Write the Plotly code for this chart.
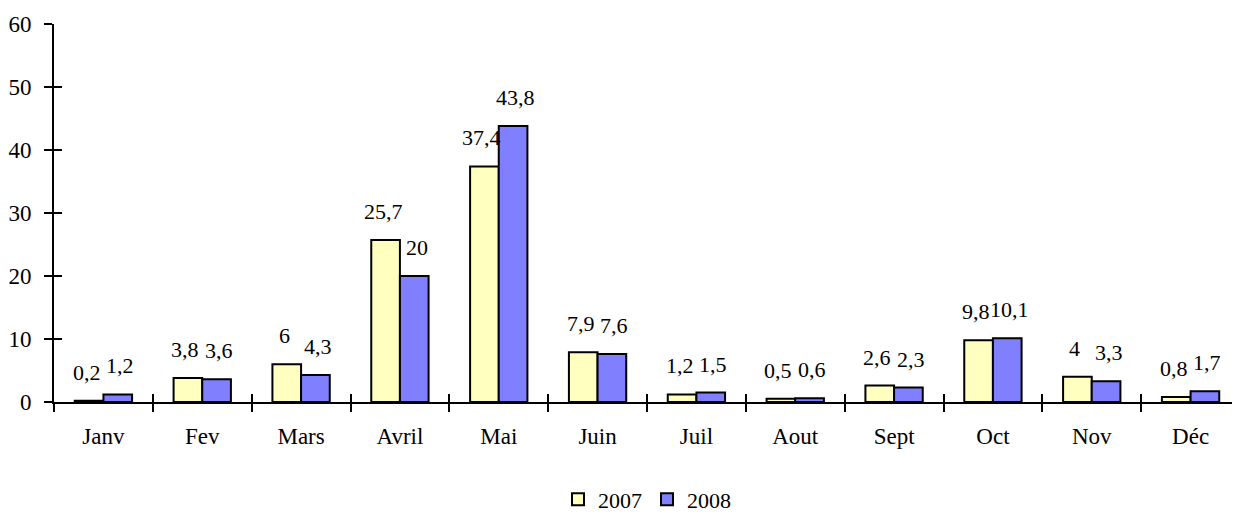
import plotly.graph_objects as go

months = ["Janv", "Fev", "Mars", "Avril", "Mai", "Juin", "Juil", "Aout", "Sept", "Oct", "Nov", "Déc"]
v2007 = [0.2, 3.8, 6, 25.7, 37.4, 7.9, 1.2, 0.5, 2.6, 9.8, 4, 0.8]
v2008 = [1.2, 3.6, 4.3, 20, 43.8, 7.6, 1.5, 0.6, 2.3, 10.1, 3.3, 1.7]
y_ticks = [0, 10, 20, 30, 40, 50, 60]

FONT = "Liberation Serif, Times New Roman, serif"
FS = 23
# page body has an 8px margin, so the figure is sized to the remaining viewport
W, H = 1232, 507
ML, MR, MT, MB = 46, 0, 16, 113
plot_w = W - ML - MR
cat_w = plot_w / len(months)
bargap = 0.42
bar_w = cat_w * (1 - bargap) / 2

def fmt(v):
    return f"{v:g}".replace(".", ",")

fig = go.Figure()
fig.add_trace(go.Bar(name="2007", x=months, y=v2007,
                     marker=dict(color="#FFFFC0", line=dict(color="black", width=2))))
fig.add_trace(go.Bar(name="2008", x=months, y=v2008,
                     marker=dict(color="#8080FF", line=dict(color="black", width=2))))

ann = []
for vals, sgn in ((v2007, -1), (v2008, 1)):
    for m, v in zip(months, vals):
        ann.append(dict(x=m, y=v, xref="x", yref="y", text=fmt(v), showarrow=False,
                        xshift=sgn * (bar_w / 2 + 2.5), yshift=14, yanchor="bottom",
                        font=dict(family=FONT, size=22, color="black")))

fig.update_layout(
    width=W, height=H,
    margin=dict(l=ML, r=MR, t=MT, b=MB, autoexpand=False),
    paper_bgcolor="white", plot_bgcolor="white",
    barmode="group", bargap=bargap, bargroupgap=0,
    font=dict(family=FONT, size=FS, color="black"),
    showlegend=True,
    legend=dict(orientation="h", x=0.5, xanchor="center", y=-0.258, yanchor="middle",
                font=dict(family=FONT, size=22), itemwidth=30, tracegroupgap=0,
                borderwidth=0),
    annotations=ann,
    xaxis=dict(type="category", showline=True, linecolor="black", linewidth=2,
               ticks="outside", tickson="boundaries", ticklen=8, tickwidth=2, tickcolor="black",
               showgrid=False, zeroline=False, ticklabelstandoff=12,
               tickfont=dict(family=FONT, size=FS)),
    xaxis2=dict(overlaying="x", range=[-0.5, len(months) - 0.5], showline=False,
                tickvals=[i - 0.5 for i in range(len(months) + 1)],
                ticks="inside", ticklen=8, tickwidth=2, tickcolor="black",
                showticklabels=False, showgrid=False, zeroline=False),
    yaxis=dict(range=[0, 60], tickvals=y_ticks, showline=True, linecolor="black", linewidth=2,
               ticks="outside", ticklen=8, tickwidth=2, tickcolor="black",
               showgrid=False, zeroline=False, ticklabelstandoff=8,
               tickfont=dict(family=FONT, size=FS)),
    yaxis2=dict(overlaying="y", range=[0, 60], tickvals=y_ticks, showline=False,
                ticks="inside", ticklen=8, tickwidth=2, tickcolor="black",
                showticklabels=False, showgrid=False, zeroline=False),
)
# invisible trace to activate the overlay axes (crossing tick marks)
fig.add_trace(go.Scatter(x=[0], y=[0], xaxis="x2", yaxis="y2", mode="markers",
                         marker=dict(opacity=0), showlegend=False, hoverinfo="skip"))

fig.write_html("out.html")
